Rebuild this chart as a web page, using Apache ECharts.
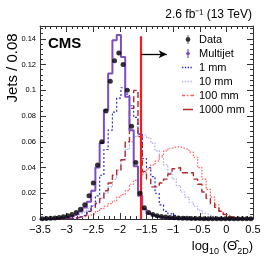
<!DOCTYPE html>
<html><head><meta charset="utf-8">
<script src="https://cdn.jsdelivr.net/npm/echarts@6/dist/echarts.min.js"></script>
<style>html,body{margin:0;padding:0;background:#fff}#c{width:266px;height:259px}</style>
</head><body><div id="c"></div>
<script>
// ---- data (50 bins of width 0.08 from -3.5 to 0.5) ----
const binStart = -3.5;
const binWidth = 0.08;
const dataVals = [0.0002,0.0003,0.0005,0.0008,0.0012,0.0018,0.0025,0.0035,0.005,0.0075,
  0.011,0.018,0.028,0.042,0.060,0.084,0.107,0.123,0.129,0.120,
  0.100,0.072,0.044,0.020,0.0087,0.005,0.0035,0.0025,0.002,0.0015,
  0.0012,0.001,0.0008,0.0006,0.0005,0.0004,0.0003,0.0003,0.0002,0.0002,
  0.0002,0.0001,0.0001,0.0001,0.0001,0.0001,0.0001,0.0001,0.0001,0.0001];
const multijetVals = [0.0001,0.0002,0.0003,0.0005,0.0008,0.0012,0.0018,0.0026,0.0038,0.0058,
  0.009,0.0135,0.022,0.040,0.059,0.085,0.113,0.139,0.143,0.126,
  0.095,0.069,0.041,0.018,0.0075,0.004,0.0025,0.0018,0.0012,0.0009,
  0.0006,0.0005,0.0004,0.0003,0.0002,0.0001,0.0001,0.0001,0.0001,0.0001,
  0.0001,0.0001,0.0001,0.0001,0.0001,0.0001,0.0001,0.0001,0.0001,0.0001];
const mm1Vals = [0,0,0,0,0,0.0001,0.0003,0.0006,0.001,0.002,
  0.0035,0.006,0.010,0.018,0.034,0.054,0.069,0.083,0.094,0.102,
  0.097,0.088,0.079,0.066,0.047,0.040,0.033,0.020,0.011,0.006,
  0.004,0.0025,0.0015,0.001,0.0006,0.0004,0.0003,0.0002,0.0001,0.0001,
  0,0,0,0,0,0,0,0,0,0];
const mm10Vals = [0,0,0.0002,0.0004,0.0007,0.001,0.0015,0.0022,0.003,0.0045,
  0.006,0.008,0.0105,0.013,0.016,0.020,0.025,0.031,0.038,0.046,
  0.054,0.060,0.064,0.066,0.065,0.063,0.059,0.053,0.048,0.042,
  0.036,0.031,0.026,0.021,0.017,0.013,0.010,0.007,0.0045,0.003,
  0.0018,0.001,0.0006,0.0003,0.0002,0.0001,0.0001,0.0001,0.0001,0.0001];
const mm100Vals = [0,0,0,0,0.0001,0.0002,0.0004,0.0007,0.001,0.0015,
  0.002,0.003,0.004,0.006,0.008,0.010,0.012,0.014,0.017,0.019,
  0.022,0.027,0.030,0.033,0.036,0.039,0.042,0.045,0.049,0.053,
  0.055,0.056,0.056,0.055,0.054,0.052,0.048,0.040,0.031,0.023,
  0.017,0.011,0.006,0.0035,0.002,0.001,0.0005,0.0002,0.0001,0];
const mm1000Vals = [0,0,0,0,0,0.0001,0.0003,0.0006,0.001,0.002,
  0.003,0.006,0.009,0.012,0.016,0.022,0.028,0.034,0.038,0.046,
  0.060,0.086,0.100,0.064,0.037,0.031,0.025,0.025,0.028,0.031,
  0.035,0.039,0.040,0.036,0.036,0.036,0.031,0.027,0.021,0.016,
  0.012,0.009,0.006,0.0035,0.0015,0.0007,0.0003,0.0001,0,0];
const cutValue = -1.6;
const cutLineTop = 0.142;
const arrowY = 0.128;
const arrowEnd = -1.12;
const xMin = -3.5, xMax = 0.5, xStep = 0.5;
const yMin = 0, yMax = 0.15, yStep = 0.02;

const FONT = 'Liberation Sans, Arial, Helvetica, sans-serif';
function edge(i){ return +(binStart + binWidth*i).toFixed(4); }
function stepPts(vals){
  const pts = [];
  vals.forEach((v,i)=>{ pts.push([edge(i), v]); pts.push([edge(i+1), v]); });
  return pts;
}
const dataPts = dataVals.map((v,i)=>[+(binStart + binWidth*(i+0.5)).toFixed(4), v]);

function histSeries(name, vals, color, width, type, z){
  return {name, type:'line', data: stepPts(vals), symbol:'none', showSymbol:false,
    lineStyle:{color, width, type}, itemStyle:{color}, z, animation:false};
}

// legend icon paths in a 12x11 box (tiny corner anchors keep the box size)
const ANCH = 'M0,0h0.01v0.01h-0.01Z M12,11h-0.01v-0.01h0.01Z ';
function dotsIcon(w, gap){
  let p = ANCH; for(let x=0; x+w<=12.01; x+=w+gap){ p += `M${x},${5.5-w/2}h${w}v${w}h${-w}Z `; } return 'path://'+p;
}
const iconData = 'path://' + ANCH + 'M5.6,1H6.4V10H5.6Z M6,3.1A2.4,2.4 0 1 1 5.99,3.1Z';
const iconMulti = 'path://' + ANCH + 'M5.4,1H6.6V10H5.4Z M6,3L8.2,5.5L6,8L3.8,5.5Z';
const icon1 = dotsIcon(1.4, 1.4);
const icon10 = dotsIcon(1.3, 1.5);
const icon100 = 'path://' + ANCH + 'M0,4.8h3v1.4h-3Z M5,4.8h1.4v1.4h-1.4Z M8.4,4.8h3.6v1.4h-3.6Z';
const icon1000 = 'path://' + ANCH + 'M1,4.7h10v1.6h-10Z';

const axisLineStyle = {color:'#333', width:1};
const xCommon = {type:'value', min:xMin, max:xMax, interval:xStep, splitLine:{show:false},
  axisLine:{show:true, onZero:false, lineStyle:axisLineStyle},
  axisTick:{show:true, inside:true, length:6, lineStyle:axisLineStyle},
  minorTick:{show:true, splitNumber:5, length:3, lineStyle:axisLineStyle}};
const yCommon = {type:'value', min:yMin, max:yMax, interval:yStep, splitLine:{show:false},
  axisLine:{show:true, onZero:false, lineStyle:axisLineStyle},
  axisTick:{show:true, inside:true, length:6, lineStyle:axisLineStyle},
  minorTick:{show:true, splitNumber:5, length:3, lineStyle:axisLineStyle}};

const chart = echarts.init(document.getElementById('c'), null, {renderer:'canvas'});
chart.setOption({
  animation:false,
  backgroundColor:'#fff',
  grid:{left:40, right:13, top:26, bottom:40, containLabel:false},
  xAxis:[
    Object.assign({}, xCommon, {position:'bottom',
      axisLabel:{show:true, fontSize:11, color:'#000', fontFamily:FONT, margin:5,
        formatter: v => (v<0?'\u2212':'') + (+Math.abs(v).toFixed(1))}}),
    Object.assign({}, xCommon, {position:'top', axisLabel:{show:false}})
  ],
  yAxis:[
    Object.assign({}, yCommon, {position:'left',
      axisLabel:{show:true, fontSize:7.5, color:'#000', fontFamily:FONT, margin:4,
        formatter: v => Math.abs(v-yMax)<1e-9 ? '' : String(+v.toFixed(2))}}),
    Object.assign({}, yCommon, {position:'right', axisLabel:{show:false}})
  ],
  legend:{
    left:182, top:34, padding:0, orient:'vertical', itemGap:3, itemWidth:12, itemHeight:11,
    textStyle:{fontSize:11, color:'#000', fontFamily:FONT},
    data:[
      {name:'Data', icon:iconData},
      {name:'Multijet', icon:iconMulti},
      {name:'1 mm', icon:icon1},{name:'10 mm', icon:icon10},
      {name:'100 mm', icon:icon100},{name:'1000 mm', icon:icon1000}
    ]
  },
  series:[
    histSeries('10 mm', mm10Vals, '#a9a9f0', 1.2, [1.5,1.5], 2),
    histSeries('100 mm', mm100Vals, '#ff5a5a', 1.2, [1.5,1.5], 2),
    histSeries('1000 mm', mm1000Vals, '#b22a2a', 1.4, [6,3], 3),
    histSeries('1 mm', mm1Vals, '#3030c8', 1.2, [2,2], 3),
    Object.assign(histSeries('Multijet', multijetVals, '#7b4fc0', 2, 'solid', 4), {
      markLine:{silent:true, symbol:'none', label:{show:false}, animation:false,
        data:[
          [{coord:[cutValue, 0], lineStyle:{color:'#ff1a1a', width:2.2, type:'solid'}},
           {coord:[cutValue, cutLineTop]}],
          [{coord:[cutValue, arrowY], symbol:'none', lineStyle:{color:'#000', width:1.3, type:'solid'}},
           {coord:[arrowEnd, arrowY], symbol:'arrow', symbolSize:[6,8]}]
        ]}
    }),
    {name:'Data', type:'scatter', data:dataPts, symbol:'circle', symbolSize:5,
      itemStyle:{color:'#000'}, z:6, animation:false}
  ],
  graphic:[
    {type:'text', left:48, top:36, style:{text:'CMS', font:'bold 15px '+FONT, fill:'#000'}},
    {type:'text', right:14, top:9, style:{text:'2.6 fb\u207B\u00B9 (13 TeV)', font:'12px '+FONT, fill:'#000'}},
    {type:'text', x:13, y:68, rotation:Math.PI/2,
      style:{text:'Jets / 0.08', font:'15px '+FONT, fill:'#000', textAlign:'center', textVerticalAlign:'middle'}},
    {type:'text', right:13, top:240, style:{
      text:'{a|log}{s|10}{a| (\u0398\u0302}{s|2D}{a|)}',
      rich:{a:{fontSize:13, fontFamily:FONT, fill:'#000', verticalAlign:'top'},
            s:{fontSize:9, fontFamily:FONT, fill:'#000', verticalAlign:'bottom', padding:[7,0,0,0]}}}}
  ]
});
</script></body></html>
